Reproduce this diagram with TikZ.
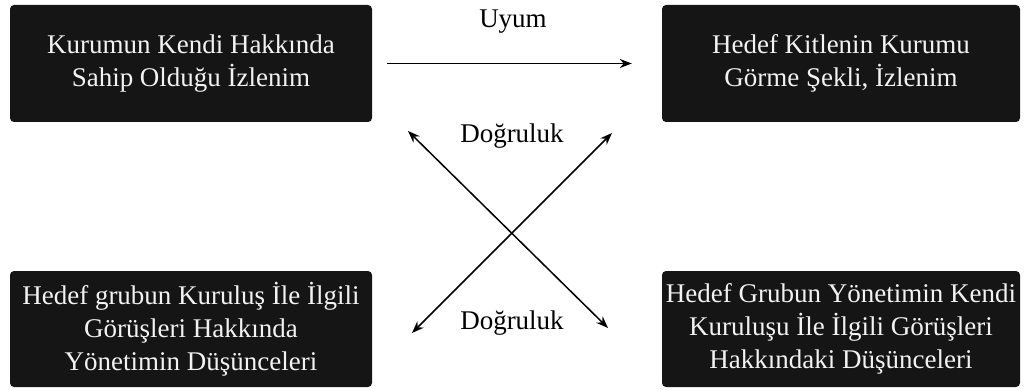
\documentclass[tikz,border=0pt]{standalone}
\usepackage{fontspec}
\setmainfont{Liberation Serif}
\usetikzlibrary{arrows.meta}
\begin{document}
\begin{tikzpicture}[x=1pt,y=1pt,
  box/.style={fill=boxfill, rounded corners=4pt, text=boxtext, align=center,
    inner sep=0pt, font=\fontsize{27}{33}\selectfont},
  lbl/.style={font=\fontsize{27}{33}\selectfont, inner sep=0pt},
  tip/.style={},
  arr/.style={line width=1.5pt, {Stealth[length=12pt,width=9pt]}-{Stealth[length=12pt,width=9pt]}},
  arrone/.style={line width=1.5pt, -{Stealth[length=12pt,width=9pt]}}]
\definecolor{boxfill}{HTML}{151515}
\definecolor{boxtext}{HTML}{F2F2F2}
\useasboundingbox (0,0) rectangle (1026,389);
% four statement boxes
\node[box, minimum width=362pt, minimum height=117pt] (tl) at (191,325.5)
  {Kurumun Kendi Hakkında\\Sahip Olduğu İzlenim};
\node[box, minimum width=358pt, minimum height=117pt] (tr) at (841,325.5)
  {Hedef Kitlenin Kurumu\\Görme Şekli, İzlenim};
\node[box, minimum width=362pt, minimum height=116pt] (bl) at (191,60)
  {Hedef grubun Kuruluş İle İlgili\\Görüşleri Hakkında\\Yönetimin Düşünceleri};
\node[box, minimum width=358pt, minimum height=116pt] (br) at (841,60)
  {Hedef Grubun Yönetimin Kendi\\Kuruluşu İle İlgili Görüşleri\\Hakkındaki Düşünceleri};
% relation labels
\node[lbl] (uyum) at (513,367) {Uyum};
\node[lbl] (dtop) at (512,253) {Doğruluk};
\node[lbl] (dbot) at (512,66) {Doğruluk};
% arrow end points
\coordinate (a1) at (408,258);
\coordinate (a2) at (608,61);
\coordinate (b1) at (412,56);
\coordinate (b2) at (612,256);
\draw[arrone] ([xshift=15pt]tl.east) -- ([xshift=-30pt]tr.west);
\draw[arr] (a1) -- (a2);
\draw[arr] (b1) -- (b2);
\end{tikzpicture}
\end{document}
